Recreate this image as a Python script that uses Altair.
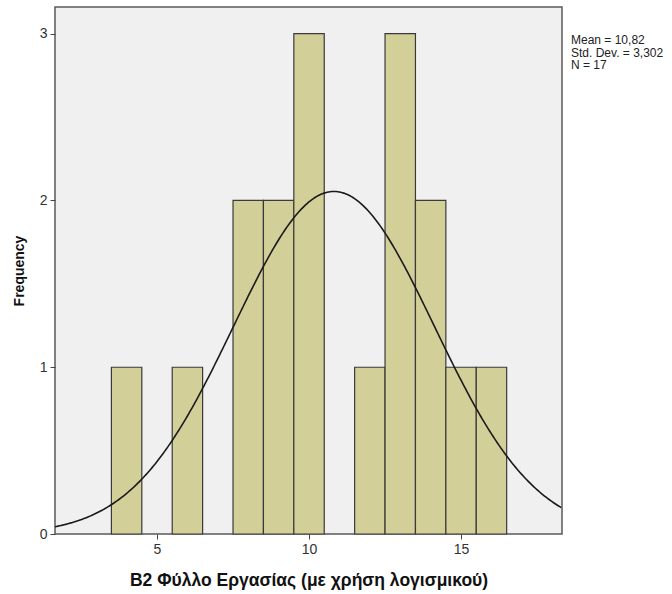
import altair as alt
import pandas as pd

# Histogram data (bin centers, width 1)
values = [4, 6, 8, 9, 10, 12, 13, 14, 15, 16]
counts = [1, 1, 2, 2, 3, 1, 3, 2, 1, 1]

# Fitted normal curve parameters (as stated in the chart)
mean = 10.82
sd = 3.302
n = 17
bin_width = 1.0

x_domain = [1.645, 18.32]
y_domain = [0, 3.16]
x_ticks = [5, 10, 15]
y_ticks = [0, 1, 2, 3]

stats_lines = ["Mean = 10,82", "Std. Dev. = 3,302", "N = 17"]

FONT = "Liberation Sans"

df = pd.DataFrame({"value": values, "count": counts})

xscale = alt.Scale(domain=x_domain, nice=False, zero=False)
yscale = alt.Scale(domain=y_domain, nice=False)

bars = alt.Chart(df).transform_calculate(
    start=f"datum.value - {bin_width}/2", end=f"datum.value + {bin_width}/2"
).mark_rect(fill="#d3cf98", stroke="#3a3a3a", strokeWidth=1.2, opacity=1).encode(
    x=alt.X("start:Q", scale=xscale,
            axis=alt.Axis(values=x_ticks, title="B2 Φύλλο Εργασίας (με χρήση λογισμικού)",
                          format="d", titleFontSize=17.5)),
    x2="end:Q",
    y=alt.Y("count:Q", scale=yscale,
            axis=alt.Axis(values=y_ticks, title="Frequency", format="d")),
    y2=alt.datum(0),
)

curve = alt.Chart(alt.sequence(x_domain[0], x_domain[1] + 0.01, 0.05, as_="x")).transform_calculate(
    y=f"{n}*{bin_width}*exp(-0.5*pow((datum.x-{mean})/{sd},2))/({sd}*sqrt(2*PI))"
).mark_line(color="#1a1a1a", strokeWidth=1.6, clip=True).encode(
    x=alt.X("x:Q", scale=xscale),
    y=alt.Y("y:Q", scale=yscale),
)

stats = alt.Chart(pd.DataFrame({"a": [0]})).mark_text(
    align="left", baseline="top", font=FONT, fontSize=12, color="#222",
    lineHeight=12.5
).encode(
    x=alt.value(516), y=alt.value(28), text=alt.value(stats_lines)
)

chart = alt.layer(bars, curve, stats).properties(
    width=507, height=527,
    autosize=alt.AutoSizeParams(type="none"),
    padding={"left": 55, "top": 7, "right": 110, "bottom": 60},
).configure_view(
    fill="#f0f0f0", stroke="#5a5a5a", strokeWidth=1.5
).configure_axis(
    labelFont=FONT, titleFont=FONT, labelFontSize=14, titleFontSize=14,
    labelColor="#333", titleColor="#111", titleFontWeight="bold",
    domain=False, tickColor="#444", tickSize=5, grid=False, labelPadding=3,
).configure_axisX(
    titlePadding=15
).configure_axisY(
    titlePadding=13
)

chart.save("out.html", embed_options={"renderer": "svg", "actions": False})
